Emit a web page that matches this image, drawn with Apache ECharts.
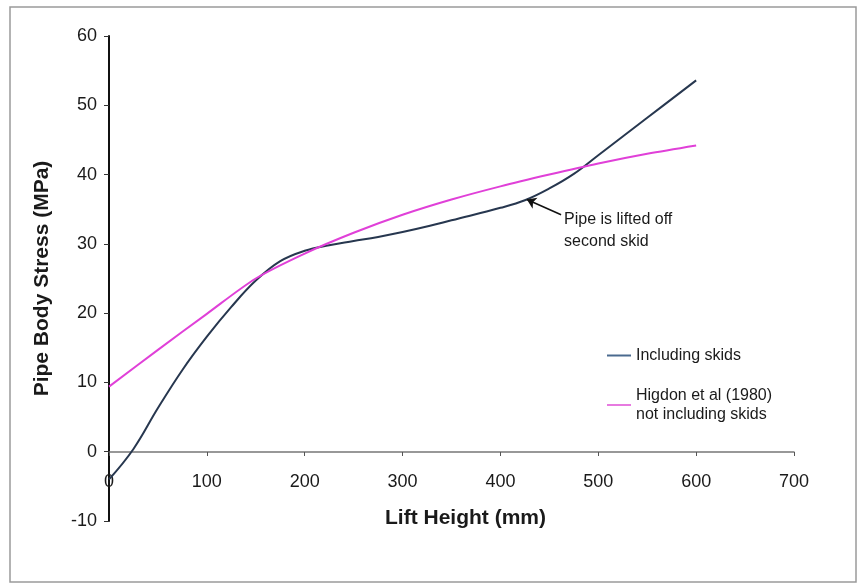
<!DOCTYPE html>
<html>
<head>
<meta charset="utf-8">
<script src="https://cdn.jsdelivr.net/npm/echarts@6/dist/echarts.min.js"></script>
<style>
  html, body { margin: 0; padding: 0; background: #fff; }
  #chart { width: 859px; height: 587px; }
</style>
</head>
<body>
<div id="chart"></div>
<script>
// lift height (mm) and pipe body stress (MPa)
const liftWithSkids = [0, 25, 50, 75, 100, 125, 150, 175, 200, 225, 250, 275, 300, 328, 350, 400, 425, 450, 475, 500, 550, 600];
const stressWithSkids = [-4, 0.4, 6.3, 11.8, 16.6, 20.9, 24.7, 27.5, 29.0, 29.8, 30.4, 31.0, 31.7, 32.6, 33.4, 35.2, 36.3, 38.0, 40.1, 42.8, 48.2, 53.6];

const liftHigdon = [0, 50, 100, 150, 200, 250, 300, 350, 400, 450, 500, 550, 600];
const stressHigdon = [9.4, 14.7, 19.9, 25.0, 28.6, 31.6, 34.2, 36.4, 38.3, 40.0, 41.6, 43.0, 44.2];

const seriesNames = ["Including skids", "Higdon et al (1980)\nnot including skids"];
const annotationText = "Pipe is lifted off\nsecond skid";
const arrowFrom = [462, 34.2];
const arrowTo = [427, 36.4];

const zip = (xs, ys) => xs.map((x, i) => [x, ys[i]]);

var chart = echarts.init(document.getElementById("chart"));

chart.setOption({
    backgroundColor: "#fff",
    animation: false,
    textStyle: { fontFamily: "Liberation Sans, Arial, sans-serif", color: "#1a1a1a" },
    grid: { left: 109, right: 65, top: 36, bottom: 66, containLabel: false, outerBoundsMode: "none" },
    graphic: [{
        type: "rect",
        shape: { x: 10, y: 7, width: 846, height: 575 },
        style: { fill: "none", stroke: "#9a9a9a", lineWidth: 1.5 }
    }],
    legend: {
        orient: "vertical",
        left: 602,
        top: 341,
        itemWidth: 24,
        itemHeight: 10,
        itemGap: 21,
        icon: "path://M0,4 L24,4 L24,6 L0,6 Z",
        textStyle: { fontSize: 16, color: "#1a1a1a", lineHeight: 19 },
        data: seriesNames
    },
    xAxis: {
        type: "value",
        min: 0,
        max: 700,
        interval: 100,
        offset: -69,
        name: "Lift Height (mm)",
        nameLocation: "middle",
        nameGap: 56,
        nameTextStyle: { fontSize: 21, fontWeight: "bold", color: "#1a1a1a", padding: [0, 0, 0, 28] },
        axisLine: { onZero: false, lineStyle: { color: "#777", width: 1.5 } },
        axisTick: { inside: false, length: 4, lineStyle: { color: "#555" } },
        axisLabel: { fontSize: 18, color: "#1a1a1a", margin: 21 },
        splitLine: { show: false }
    },
    yAxis: {
        type: "value",
        min: -10,
        max: 60,
        interval: 10,
        name: "Pipe Body Stress (MPa)",
        nameLocation: "middle",
        nameGap: 56,
        nameTextStyle: { fontSize: 21, fontWeight: "bold", color: "#1a1a1a" },
        axisLine: { show: true, onZero: false, lineStyle: { color: "#111", width: 2 } },
        axisTick: { show: true, length: 5, lineStyle: { color: "#333" } },
        axisLabel: { fontSize: 18, color: "#1a1a1a", margin: 12 },
        splitLine: { show: false }
    },
    series: [{
        name: seriesNames[0],
        type: "line",
        data: zip(liftWithSkids, stressWithSkids),
        smooth: 0.4,
        symbol: "none",
        lineStyle: { color: "#27374f", width: 2 },
        itemStyle: { color: "#4a6a8f" },
        markLine: {
            silent: true,
            symbol: ["none", "arrow"],
            symbolSize: 9,
            label: { show: false },
            lineStyle: { color: "#111", width: 1.5, type: "solid" },
            data: [[{ coord: arrowFrom }, { coord: arrowTo }]]
        },
        markPoint: {
            silent: true,
            symbol: "circle",
            symbolSize: 0,
            data: [{
                coord: arrowFrom,
                label: {
                    show: true,
                    position: "right",
                    distance: 3,
                    offset: [0, 16],
                    formatter: annotationText,
                    fontSize: 16,
                    lineHeight: 22,
                    color: "#1a1a1a",
                    align: "left"
                }
            }]
        }
    }, {
        name: seriesNames[1],
        type: "line",
        data: zip(liftHigdon, stressHigdon),
        smooth: 0.3,
        symbol: "none",
        lineStyle: { color: "#e040d8", width: 2 },
        itemStyle: { color: "#e77ae0" }
    }]
});
</script>
</body>
</html>
